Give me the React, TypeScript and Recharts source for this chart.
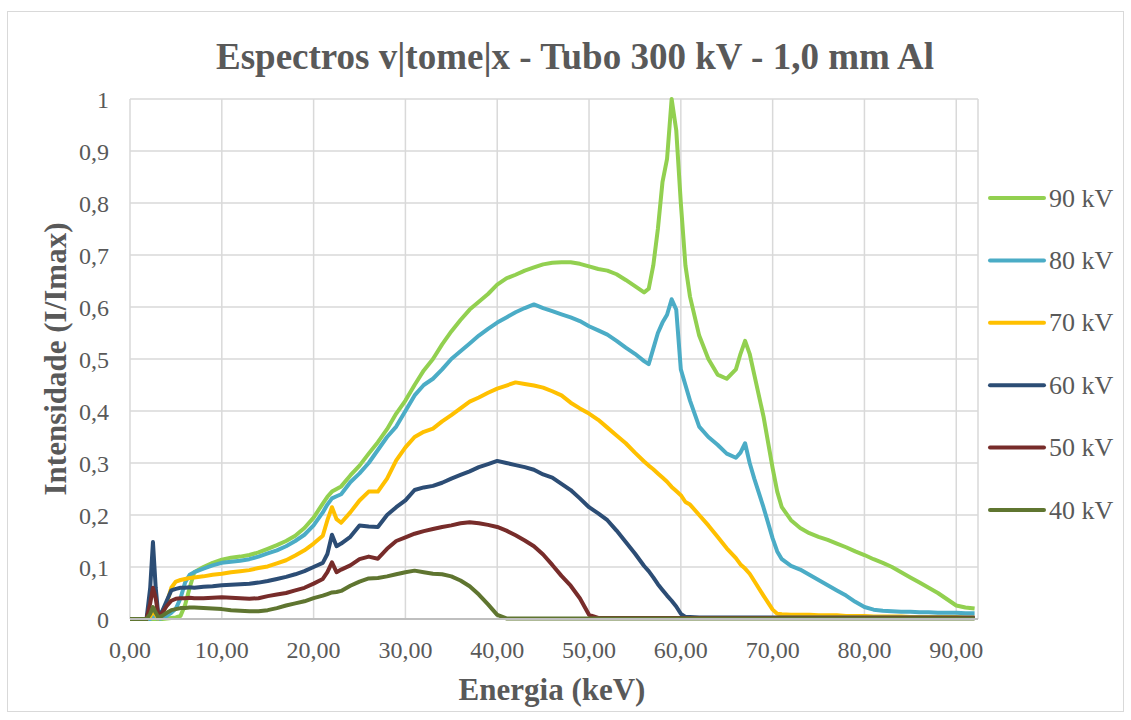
import React from 'react';
import { LineChart, Line, XAxis, YAxis, CartesianGrid } from 'recharts';

// Energy grid (keV)
const energy = [
  0, 1, 1.8, 2.2, 2.5, 2.8, 3.1, 3.5, 4, 4.5, 5, 5.5, 6, 6.5, 7,
  8, 9, 10, 11, 12, 13, 14, 15, 16, 17, 18, 19, 20, 21,
  21.5, 22, 22.5, 23,
  24, 25, 26, 27, 28, 29, 30, 31, 32, 33, 34, 35, 36, 37, 38, 39, 40, 41, 42, 43, 44, 45, 46, 47, 48, 49, 50, 51, 52, 53, 54, 55, 56,
  56.5, 57, 57.5, 58, 58.5, 59, 59.5, 60, 60.5, 61,
  62, 63, 64, 65, 66,
  66.5, 67, 67.5, 68, 69, 70, 70.5,
  71, 72, 73, 74, 75, 76, 77, 78, 79, 80, 81, 82, 83, 84, 85, 86, 87, 88, 89, 90, 91, 92,
];

const kv90 = [
  0, 0, 0, 0, 0, 0, 0, 0, 0.001, 0.002, 0.003, 0.006, 0.027, 0.06, 0.09,
  0.1, 0.108, 0.114, 0.118, 0.12, 0.123, 0.128, 0.135, 0.142, 0.15, 0.16, 0.175, 0.195, 0.222,
  0.235, 0.245, 0.25, 0.255,
  0.276, 0.295, 0.318, 0.34, 0.365, 0.395, 0.42, 0.45, 0.478, 0.5, 0.528, 0.553, 0.575, 0.595, 0.61, 0.625, 0.643, 0.655, 0.662, 0.67, 0.676, 0.682, 0.685, 0.686, 0.686, 0.683, 0.678, 0.673, 0.67, 0.663, 0.652, 0.64, 0.628,
  0.635, 0.68, 0.75, 0.84, 0.885, 1.0, 0.94, 0.8, 0.68, 0.62,
  0.545, 0.5, 0.47, 0.462, 0.48,
  0.51, 0.535, 0.51, 0.47, 0.39, 0.29, 0.245,
  0.215, 0.19, 0.175, 0.165, 0.158, 0.152, 0.145, 0.138, 0.13, 0.123, 0.115, 0.108, 0.1, 0.09, 0.08, 0.07, 0.06, 0.05, 0.038, 0.026, 0.022, 0.02,
];

const kv80 = [
  0, 0, 0, 0, 0.004, 0.002, 0, 0.002, 0.006, 0.012, 0.02, 0.04, 0.07, 0.085, 0.09,
  0.097, 0.103, 0.108, 0.11, 0.112, 0.115, 0.12, 0.126, 0.132, 0.14, 0.15, 0.162, 0.18, 0.205,
  0.22, 0.232, 0.236, 0.24,
  0.263, 0.28, 0.3, 0.325, 0.35, 0.37, 0.4, 0.43, 0.45, 0.462, 0.48, 0.5, 0.515, 0.53, 0.545, 0.558, 0.57, 0.58, 0.59, 0.598, 0.605, 0.598, 0.592, 0.586, 0.58, 0.573, 0.563, 0.555, 0.547, 0.535, 0.522, 0.51, 0.496,
  0.49, 0.52, 0.55, 0.57, 0.585, 0.615, 0.595, 0.48, 0.45, 0.42,
  0.37, 0.35, 0.335, 0.318, 0.31,
  0.32, 0.338, 0.3, 0.27, 0.215, 0.155, 0.13,
  0.115, 0.102, 0.095, 0.085, 0.075, 0.065, 0.055, 0.045, 0.033, 0.023, 0.018, 0.016, 0.015, 0.014, 0.014, 0.013, 0.013, 0.012, 0.012, 0.012, 0.011, 0.011,
];

const kv70 = [
  0, 0, 0, 0.005, 0.015, 0.008, 0.001, 0.01, 0.03, 0.06, 0.072, 0.075, 0.077, 0.079, 0.08,
  0.082, 0.085, 0.087, 0.09, 0.092, 0.094, 0.098, 0.101, 0.107, 0.113, 0.122, 0.132, 0.145, 0.16,
  0.19, 0.215, 0.192, 0.185,
  0.205, 0.228, 0.245, 0.245, 0.27, 0.305, 0.33, 0.35, 0.36, 0.366, 0.38, 0.392, 0.405, 0.418, 0.426, 0.435, 0.443, 0.449, 0.455, 0.452, 0.449, 0.445, 0.438, 0.43, 0.416, 0.405, 0.395, 0.383, 0.368, 0.353, 0.338, 0.32, 0.303,
  0.295, 0.288, 0.28, 0.272, 0.264, 0.254, 0.246, 0.238, 0.225, 0.22,
  0.2, 0.18, 0.158, 0.136, 0.117,
  0.105, 0.097, 0.087, 0.073, 0.045, 0.018, 0.01,
  0.009, 0.008, 0.008, 0.008, 0.007, 0.007, 0.007, 0.006, 0.006, 0.006, 0.005, 0.005, 0.005, 0.005, 0.004, 0.004, 0.004, 0.004, 0.004, 0.004, 0.003, 0.003,
];

const kv60 = [
  0, 0, 0, 0.06, 0.148, 0.06, 0.004, 0.015, 0.035, 0.055, 0.058, 0.06, 0.06, 0.061, 0.06,
  0.062, 0.063, 0.065, 0.066, 0.067, 0.068, 0.07, 0.073, 0.077, 0.081, 0.086, 0.092, 0.1, 0.108,
  0.125, 0.162, 0.14, 0.145,
  0.158, 0.18, 0.178, 0.177, 0.2, 0.215, 0.228, 0.248, 0.253, 0.256, 0.262, 0.27, 0.277, 0.284, 0.292, 0.298, 0.304, 0.3, 0.296, 0.292, 0.287, 0.278, 0.272, 0.26, 0.248, 0.232, 0.215, 0.203, 0.19, 0.17, 0.148, 0.126, 0.102,
  0.092, 0.08, 0.067, 0.056, 0.045, 0.035, 0.024, 0.01, 0.004, 0.004,
  0.003, 0.003, 0.003, 0.003, 0.003,
  0.003, 0.003, 0.003, 0.003, 0.003, 0.003, 0.003,
  0.003, 0.003, 0.003, 0.003, 0.003, 0.003, 0.003, 0.003, 0.003, 0.003, 0.003, 0.003, 0.003, 0.003, 0.003, 0.003, 0.003, 0.003, 0.003, 0.003, 0.003, 0.003,
];

const kv50 = [
  0, 0, 0, 0.03, 0.06, 0.04, 0.004, 0.012, 0.025, 0.035, 0.039, 0.04, 0.04, 0.041, 0.04,
  0.04, 0.041, 0.042, 0.041, 0.04, 0.039, 0.04, 0.044, 0.047, 0.05, 0.055, 0.06, 0.068, 0.077,
  0.09, 0.109, 0.09, 0.095,
  0.103, 0.115, 0.12, 0.116, 0.135, 0.15, 0.157, 0.164, 0.169, 0.173, 0.177, 0.18, 0.184, 0.186, 0.184, 0.181, 0.177, 0.17, 0.161, 0.151, 0.14, 0.124, 0.104, 0.083, 0.064, 0.04, 0.008, 0.002, 0.002, 0.002, 0.002, 0.002, 0.002,
  0.002, 0.002, 0.002, 0.002, 0.002, 0.002, 0.002, 0.002, 0.002, 0.002,
  0.002, 0.002, 0.002, 0.002, 0.002,
  0.002, 0.002, 0.002, 0.002, 0.002, 0.002, 0.002,
  0.002, 0.002, 0.002, 0.002, 0.002, 0.002, 0.002, 0.002, 0.002, 0.002, 0.002, 0.002, 0.002, 0.002, 0.002, 0.002, 0.002, 0.002, 0.002, 0.002, 0.002, 0.002,
];

const kv40 = [
  0, 0, 0, 0.01, 0.023, 0.012, 0.003, 0.006, 0.012, 0.017, 0.019, 0.021, 0.021, 0.022, 0.022,
  0.021, 0.02, 0.019, 0.017, 0.016, 0.015, 0.015, 0.017, 0.021, 0.026, 0.03, 0.034, 0.04, 0.045,
  0.048, 0.051, 0.052, 0.054,
  0.064, 0.072, 0.078, 0.079, 0.082, 0.086, 0.09, 0.093, 0.09, 0.087, 0.086, 0.082, 0.074, 0.063, 0.047, 0.028, 0.008, 0.001, 0.001, 0.001, 0.001, 0.001, 0.001, 0.001, 0.001, 0.001, 0.001, 0.001, 0.001, 0.001, 0.001, 0.001, 0.001,
  0.001, 0.001, 0.001, 0.001, 0.001, 0.001, 0.001, 0.001, 0.001, 0.001,
  0.001, 0.001, 0.001, 0.001, 0.001,
  0.001, 0.001, 0.001, 0.001, 0.001, 0.001, 0.001,
  0.001, 0.001, 0.001, 0.001, 0.001, 0.001, 0.001, 0.001, 0.001, 0.001, 0.001, 0.001, 0.001, 0.001, 0.001, 0.001, 0.001, 0.001, 0.001, 0.001, 0.001, 0.001,
];

const seriesKeys = ['kv90', 'kv80', 'kv70', 'kv60', 'kv50', 'kv40'];
const seriesNames = ['90 kV', '80 kV', '70 kV', '60 kV', '50 kV', '40 kV'];
const seriesValues = [kv90, kv80, kv70, kv60, kv50, kv40];
const seriesColors = ['#92D050', '#4BACC6', '#FFC000', '#2C4D75', '#772C2A', '#5F7530'];

const xTicks = [0, 10, 20, 30, 40, 50, 60, 70, 80, 90];
const yTicks = [0, 0.1, 0.2, 0.3, 0.4, 0.5, 0.6, 0.7, 0.8, 0.9, 1];

const chartTitle = 'Espectros v|tome|x - Tubo 300 kV - 1,0 mm Al';
const xTitle = 'Energia (keV)';
const yTitle = 'Intensidade (I/Imax)';

const data = energy.map((e, i) => {
  const row: Record<string, number> = { e };
  seriesKeys.forEach((k, j) => {
    const v = seriesValues[j][i];
    if (v !== undefined) row[k] = v;
  });
  return row;
});

const FONT = '"Liberation Serif", "Times New Roman", serif';
const TXT = '#595959';

const fmtX = (v: number) => v.toFixed(2).replace('.', ',');
const fmtY = (v: number) => (v === 0 ? '0' : v === 1 ? '1' : String(Math.round(v * 10) / 10).replace('.', ','));

export default function App() {
  return (
    <div style={{ position: 'absolute', left: 0, top: 0, width: 1131, height: 720, background: '#fff', fontFamily: FONT }}>
      <LineChart width={1131} height={720} data={data} margin={{ top: 99, right: 153, bottom: 61, left: 70 }}>
        <CartesianGrid stroke="#D9D9D9" strokeWidth={1.5} />
        <XAxis
          dataKey="e"
          type="number"
          domain={[0, 92.37]}
          ticks={xTicks}
          interval={0}
          tickFormatter={fmtX}
          height={40}
          tickLine={false}
          tickSize={0}
          tickMargin={22}
          axisLine={{ stroke: '#BFBFBF', strokeWidth: 2 }}
          tick={{ fill: TXT, fontSize: 24, fontFamily: FONT }}
          allowDataOverflow
        />
        <YAxis
          type="number"
          domain={[0, 1]}
          ticks={yTicks}
          interval={0}
          tickFormatter={fmtY}
          width={60}
          axisLine={false}
          tickLine={false}
          tickSize={0}
          tickMargin={21}
          tick={{ fill: TXT, fontSize: 24, fontFamily: FONT }}
        />
        {seriesKeys.map((k, j) => (
          <Line
            key={k}
            dataKey={k}
            name={seriesNames[j]}
            type="linear"
            stroke={seriesColors[j]}
            strokeWidth={4}
            strokeLinejoin="round"
            dot={false}
            isAnimationActive={false}
          />
        ))}
      </LineChart>
      <svg width={1131} height={720} style={{ position: 'absolute', left: 0, top: 0, pointerEvents: 'none' }}>
        <rect x={7.5} y={11.5} width={1116} height={700} fill="none" stroke="#D9D9D9" strokeWidth={1} />
        <text x={575} y={69} textAnchor="middle" fontFamily={FONT} fontWeight="bold" fontSize={37} fill={TXT}>
          {chartTitle}
        </text>
        <text x={552} y={700} textAnchor="middle" fontFamily={FONT} fontWeight="bold" fontSize={31} fill={TXT}>
          {xTitle}
        </text>
        <text
          transform="translate(66, 359) rotate(-90)"
          textAnchor="middle"
          fontFamily={FONT}
          fontWeight="bold"
          fontSize={31}
          fill={TXT}
        >
          {yTitle}
        </text>
        {seriesNames.map((n, j) => {
          const y = 198 + j * 62.4;
          return (
            <g key={n}>
              <line x1={990} x2={1044} y1={y} y2={y} stroke={seriesColors[j]} strokeWidth={4} strokeLinecap="round" />
              <text x={1049} y={y + 8.6} fontFamily={FONT} fontSize={26} fill={TXT}>
                {n}
              </text>
            </g>
          );
        })}
      </svg>
    </div>
  );
}
